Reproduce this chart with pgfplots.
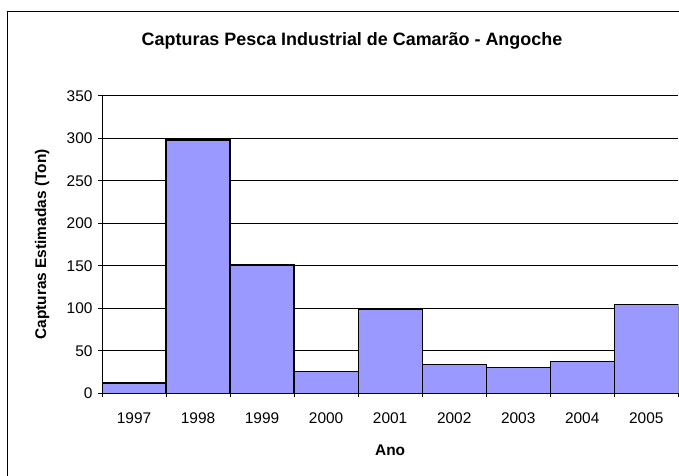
\documentclass[border=0pt]{standalone}
\usepackage{fontspec}
\setmainfont{Liberation Sans}
\usepackage{pgfplots}
\pgfplotsset{compat=1.18}
\definecolor{barfill}{HTML}{9999FF}
\begin{document}
\begin{tikzpicture}
\path[use as bounding box] (-102bp,-82.7bp) rectangle (577bp,393.3bp);
% chart area border (right and bottom edges are cropped in the original)
\draw[line width=1bp] (-94bp,-82.7bp) -- (-94bp,381.3bp) -- (577bp,381.3bp);
\node[anchor=base, font=\bfseries\fontsize{18}{21}\selectfont] at (250bp,348bp)
  {Capturas Pesca Industrial de Camarão - Angoche};
\begin{axis}[
  scale only axis,
  width=576.3bp, height=297.6bp,
  at={(0,0)}, anchor=south west,
  xmin=1996.5, xmax=2005.5,
  ymin=0, ymax=350,
  axis x line*=bottom, axis y line*=left,
  axis line style={line width=1bp, -},
  xtick={1996.5,1997.5,1998.5,1999.5,2000.5,2001.5,2002.5,2003.5,2004.5,2005.5},
  x tick label as interval,
  xticklabels={1997,1998,1999,2000,2001,2002,2003,2004,2005},
  ytick={0,50,...,350},
  /pgf/number format/assume math mode=true,
  ymajorgrids,
  grid style={black, line width=0.75bp},
  tick align=outside,
  major tick length=4bp,
  tick style={black, line width=0.75bp},
  ticklabel style={font=\fontsize{15.5}{18}\selectfont},
  x tick label style={yshift=-12bp},
  y tick label style={xshift=-2bp},
  xlabel={Ano},
  ylabel={Capturas Estimadas (Ton)},
  label style={font=\bfseries\fontsize{15.5}{18}\selectfont},
  xlabel style={at={(axis description cs:0.5,-0.191)}, anchor=center},
  ylabel style={at={(axis description cs:-0.104,0.5)}, anchor=center, rotate=0},
]
\addplot[ybar, bar width=64.03bp, fill=barfill, draw=black, line width=1.2bp]
  coordinates {
  (1997,12) (1998,298) (1999,151) (2000,26) (2001,99)
  (2002,34) (2003,30) (2004,37) (2005,104)
};
\end{axis}
\end{tikzpicture}
\end{document}
